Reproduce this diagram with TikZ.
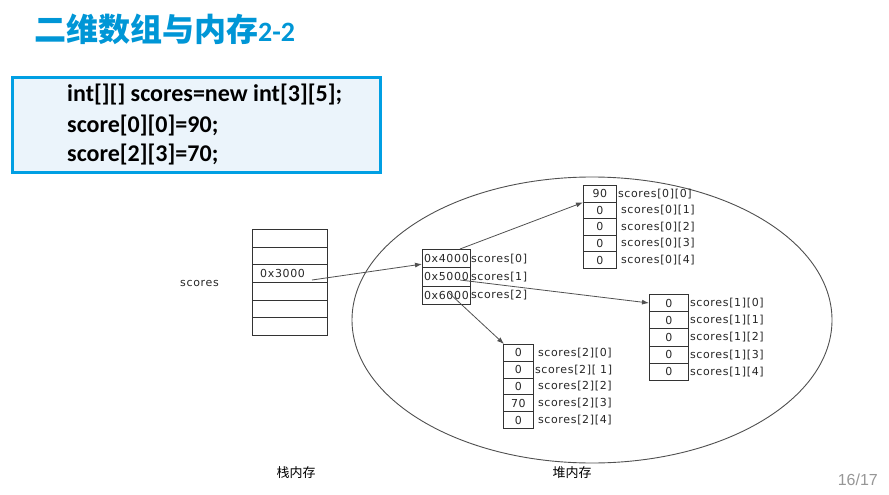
\documentclass[tikz,border=0pt]{standalone}
\usepackage{fontspec}
\setmainfont{Liberation Sans}
\newfontfamily\cjk{Noto Sans CJK SC}
\newfontfamily\carl{Carlito}
\newfontfamily\dv[LetterSpace=6]{DejaVu Sans}
\usetikzlibrary{arrows.meta,shapes.geometric}
\definecolor{titleblue}{RGB}{0,150,214}
\definecolor{boxblue}{RGB}{0,159,227}
\definecolor{boxfill}{RGB}{235,244,251}
\definecolor{linegray}{RGB}{80,80,80}
\definecolor{pagegray}{RGB}{150,150,150}
\tikzset{
  cell/.style={draw=black!80, line width=0.8pt, inner sep=0pt, anchor=north west, font=\dv\fontsize{11}{11}\selectfont, text=black!85},
  lab/.style={inner sep=0pt, anchor=west, font=\dv\fontsize{11}{11}\selectfont, text=black!85},
  arr/.style={draw=linegray, line width=0.8pt, -{Latex[length=7pt,width=5pt]}},
  codeline/.style={inner sep=0pt, anchor=base west, font=\carl\bfseries\fontsize{24}{24}\selectfont}
}
\begin{document}
\begin{tikzpicture}[x=1pt,y=-1pt]
\useasboundingbox (0,0) rectangle (889,495);
% title
\node[anchor=base west, inner sep=0pt, text=titleblue] (title) at (34,42)
  {\cjk\bfseries\fontsize{32}{32}\selectfont 二维数组与内存{\carl\bfseries\fontsize{28}{28}\selectfont 2-2}};
% code box
\fill[black!12] (13,80) rectangle (382,174);
\node[draw=boxblue, line width=3pt, fill=boxfill, anchor=north west, minimum width=368pt, minimum height=94pt, inner sep=0pt] (code) at (10.5,76.5) {};
\node[codeline] (c1) at (67,101) {int[][] scores=new int[3][5];};
\node[codeline] (c2) at (67,132) {score[0][0]=90;};
\node[codeline] (c3) at (67,161) {score[2][3]=70;};
% heap ellipse
\node[draw=linegray, line width=0.9pt, ellipse, minimum width=480pt, minimum height=286pt, inner sep=0pt] (heap) at (592,320) {};
% stack
\foreach \i in {0,...,5}
  \node[cell, minimum width=75pt, minimum height=17.67pt] (s\i) at (252,{229+17.67*\i}) {};
\node[lab] (t3000) at ([xshift=8pt]s2.west) {0x3000};
\node[lab] (scoresl) at (180,283) {scores};
% heap pointer array
\foreach \i/\t in {0/0x4000,1/0x5000,2/0x6000}
  \node[cell, minimum width=48pt, minimum height=18.3pt] (p\i) at (422,{249+18.3*\i}) {\t};
\foreach \i in {0,1,2}
  \node[lab] (pl\i) at (p\i.east) {scores[\i]};
% array 0
\foreach \i/\v in {0/90,1/0,2/0,3/0,4/0}
  \node[cell, minimum width=33pt, minimum height=16.6pt] (a0-\i) at (583,{185+16.6*\i}) {\v};
\node[lab] (l0-0) at ([xshift=1pt]a0-0.east) {scores[0][0]};
\foreach \i in {1,...,4}
  \node[lab] (l0-\i) at ([xshift=4pt]a0-\i.east) {scores[0][\i]};
% array 1
\foreach \i in {0,...,4}
  \node[cell, minimum width=39pt, minimum height=17.2pt] (a1-\i) at (649,{294+17.2*\i}) {0};
\foreach \i in {0,...,4}
  \node[lab] (l1-\i) at ([xshift=1pt]a1-\i.east) {scores[1][\i]};
% array 2
\foreach \i/\v in {0/0,1/0,2/0,3/70,4/0}
  \node[cell, minimum width=30pt, minimum height=16.8pt] (a2-\i) at (503,{344+16.8*\i}) {\v};
\node[lab] (l2-0) at ([xshift=4pt]a2-0.east) {scores[2][0]};
\node[lab] (l2-1) at ([xshift=1pt]a2-1.east) {scores[2][ 1]};
\foreach \i in {2,3,4}
  \node[lab] (l2-\i) at ([xshift=4pt]a2-\i.east) {scores[2][\i]};
% connectors
\coordinate (st) at (312,280);
\coordinate (q0) at (460,249);
\coordinate (q1) at (460,280);
\coordinate (q2) at (448,292);
\draw[arr] (st) -- ([yshift=4pt]p0.south west);
\draw[arr] (q0) -- (a0-0.south west);
\draw[arr] (q1) -- ([yshift=-9pt]a1-0.north west);
\draw[arr] (q2) -- ([xshift=1pt]a2-0.north west);
% bottom labels
\node[inner sep=0pt] (stackl) at (296,473) {\cjk\fontsize{13}{13}\selectfont 栈内存};
\node[inner sep=0pt] (heapl) at (572,473) {\cjk\fontsize{13}{13}\selectfont 堆内存};
\node[inner sep=0pt, anchor=east, text=pagegray] (pg) at (878,480) {\fontsize{16}{16}\selectfont 16/17};
\end{tikzpicture}
\end{document}
